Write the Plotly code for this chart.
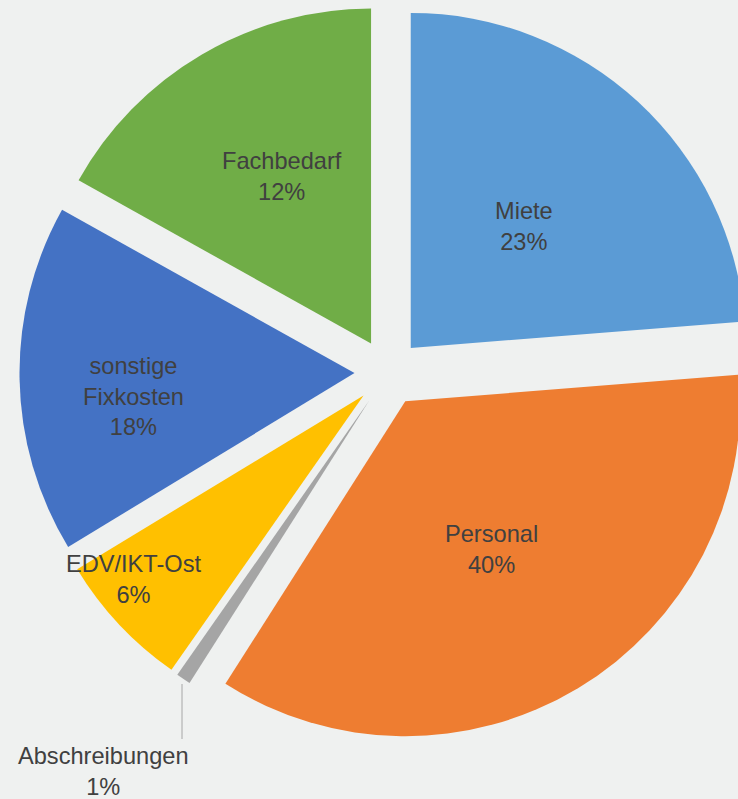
import plotly.graph_objects as go

# Categories in drawing order (clockwise from 12 o'clock)
categories = ["Miete", "Personal", "Abschreibungen", "EDV/IKT-Ost", "sonstige Fixkosten", "Fachbedarf"]
# Wedge sizes
values = [23.75, 35.3, 0.7, 6.6, 16.8, 16.9]
# Percentages as printed in the chart's data labels
printed_pct = ["23%", "40%", "1%", "6%", "18%", "12%"]
# Label text lines as printed (line break in "sonstige Fixkosten")
label_text = ["Miete", "Personal", "Abschreibungen", "EDV/IKT-Ost", "sonstige<br>Fixkosten", "Fachbedarf"]

colors = ["#5B9BD5", "#EE7D31", "#A5A5A5", "#FFC000", "#4472C4", "#70AD47"]
FONT = dict(family="Liberation Sans, Arial, sans-serif", size=23.6, color="#404040")

# Data-label placement (pixel centre of each label block, as in the original "best fit")
label_pos = {
    "Miete": (524, 227),
    "Personal": (491, 549),
    "Abschreibungen": (103, 771),
    "EDV/IKT-Ost": (133, 579),
    "sonstige Fixkosten": (133, 396),
    "Fachbedarf": (282, 176),
}

W, H = 776, 799
M = dict(l=0, r=0, t=4, b=58)
PH = H - M["t"] - M["b"]


def px_to_paper(px, py):
    return (px - M["l"]) / (W - M["l"] - M["r"]), (H - M["b"] - py) / PH


fig = go.Figure(
    go.Pie(
        labels=categories,
        values=values,
        textinfo="none",
        sort=False,
        direction="clockwise",
        rotation=0,
        pull=0.1,
        marker=dict(colors=colors, line=dict(width=0)),
        showlegend=False,
        hoverinfo="label+percent",
    )
)

for i, cat in enumerate(categories):
    x, y = px_to_paper(*label_pos[cat])
    fig.add_annotation(
        text=f"{label_text[i]}<br>{printed_pct[i]}",
        xref="paper", yref="paper", x=x, y=y,
        xanchor="center", yanchor="middle",
        showarrow=False, font=FONT,
    )

# short vertical leader line for the "Abschreibungen" label
lx, ly0 = px_to_paper(182, 684)
_, ly1 = px_to_paper(182, 739)
fig.add_shape(
    type="line", xref="paper", yref="paper",
    x0=lx, x1=lx, y0=ly0, y1=ly1,
    line=dict(color="#A6A6A6", width=1),
)

fig.update_layout(
    width=W,
    height=H,
    margin=M,
    paper_bgcolor="#EFF1F0",
    plot_bgcolor="#EFF1F0",
)

fig.write_html(
    "out.html",
    config={"displayModeBar": False},
    post_script="document.body.style.margin='0';document.body.style.overflow='hidden';document.documentElement.style.overflow='hidden';",
)
